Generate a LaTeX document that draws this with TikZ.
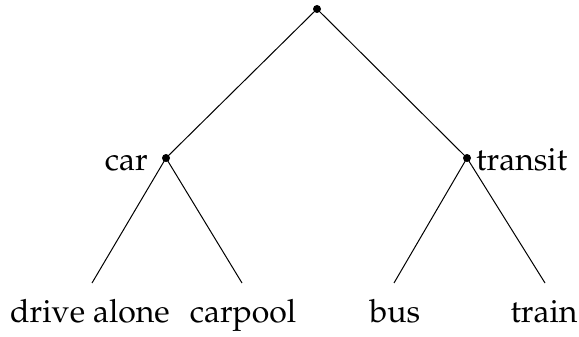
\documentclass[tikz,border=0pt]{standalone}
\usepackage[T1]{fontenc}
\usepackage{mathpazo}
\begin{document}
\begin{tikzpicture}[x=1pt,y=-1pt,
  font=\fontsize{32}{38}\selectfont,
  branch/.style={line width=1pt},
  junction/.style={circle,fill=black,inner sep=0pt,minimum size=8pt},
  leaf/.style={anchor=base,inner sep=0pt}]
\useasboundingbox (0,0) rectangle (579,337);
% internal junctions
\node[junction] (root) at (317,9) {};
\node[junction] (car) at (166,158) {};
\node[junction] (transit) at (467,158) {};
% free ends of the lower branches
\coordinate (e1) at (92,283);
\coordinate (e2) at (242,283);
\coordinate (e3) at (394,283);
\coordinate (e4) at (545,283);
% branches
\draw[branch] (root.center) -- (car.center);
\draw[branch] (root.center) -- (transit.center);
\draw[branch] (car.center) -- (e1);
\draw[branch] (car.center) -- (e2);
\draw[branch] (transit.center) -- (e3);
\draw[branch] (transit.center) -- (e4);
% labels
\node[anchor=base east,inner sep=0pt] (lcar) at (148,170) {car};
\node[anchor=base west,inner sep=0pt] (ltransit) at (476,170) {transit};
\node[leaf] (l1) at (90,322) {drive alone};
\node[leaf] (l2) at (243,322) {carpool};
\node[leaf] (l3) at (395,322) {bus};
\node[leaf] (l4) at (544,322) {train};
\end{tikzpicture}
\end{document}
